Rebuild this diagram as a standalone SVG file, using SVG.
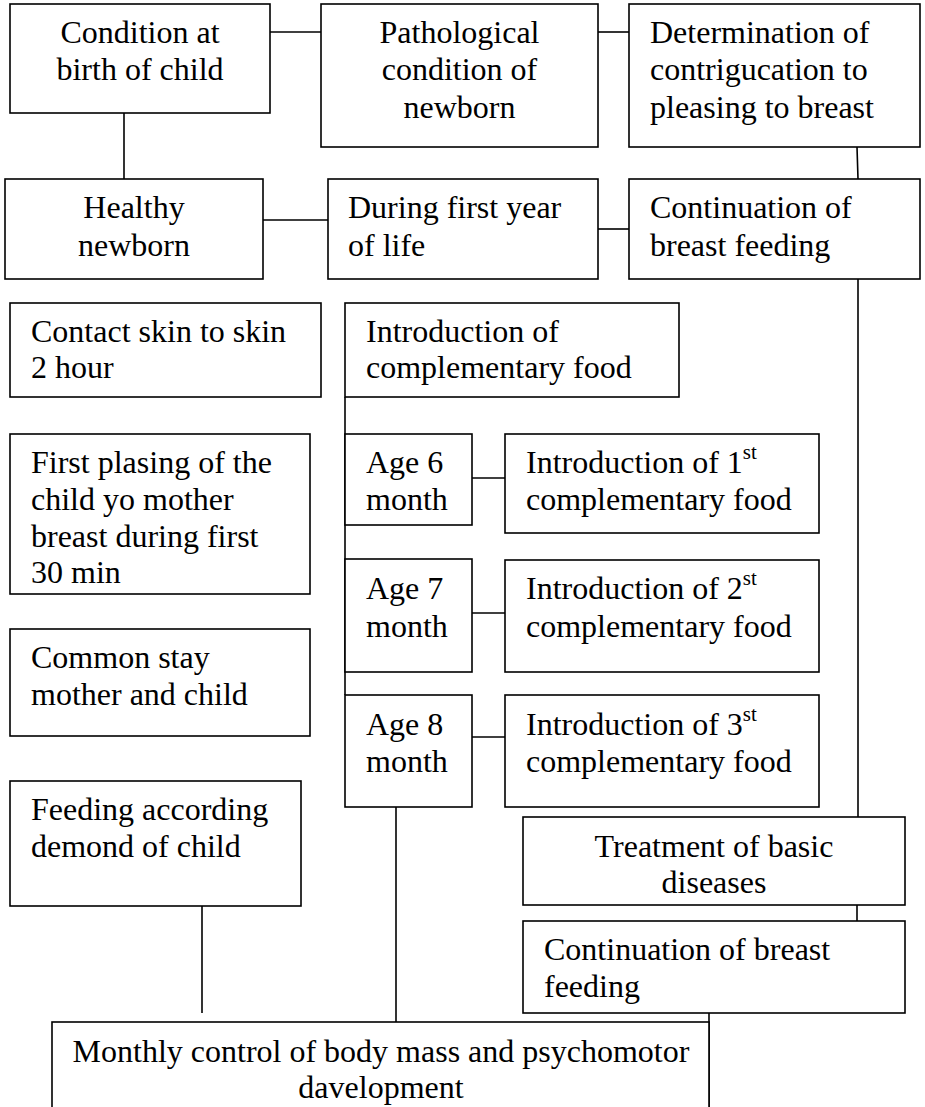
<svg xmlns="http://www.w3.org/2000/svg" width="925" height="1107" viewBox="0 0 925 1107">
<style>
rect{fill:#fff;stroke:#000;stroke-width:1.6}
line{stroke:#000;stroke-width:1.6}
text{font-family:"Liberation Serif","Times New Roman",serif;font-size:32px;fill:#000}
.c{text-anchor:middle}
.sup{font-size:21px}
</style>
<rect x="0" y="0" width="925" height="1107" style="stroke:none"/>
<g id="connectors">
<line x1="270" y1="32" x2="321" y2="32"/>
<line x1="598" y1="32" x2="629" y2="32"/>
<line x1="124" y1="113" x2="124" y2="179"/>
<line x1="857" y1="147" x2="858" y2="179"/>
<line x1="263" y1="220" x2="328" y2="220"/>
<line x1="598" y1="229" x2="629" y2="229"/>
<line x1="858" y1="279" x2="858" y2="817"/>
<line x1="345" y1="397" x2="345" y2="695"/>
<line x1="472" y1="478" x2="505" y2="478"/>
<line x1="472" y1="613" x2="505" y2="613"/>
<line x1="472" y1="737" x2="505" y2="737"/>
<line x1="202" y1="906" x2="202" y2="1013"/>
<line x1="396" y1="807" x2="396" y2="1022"/>
<line x1="857" y1="905" x2="857" y2="921"/>
<line x1="709" y1="1013" x2="709" y2="1107"/>
</g>
<g id="n1"><rect x="10" y="4" width="260" height="109"/><text x="140" y="43" class="c">Condition at</text><text x="140" y="80" class="c">birth of child</text></g>
<g id="n2"><rect x="321" y="4" width="277" height="143"/><text x="459.5" y="43" class="c">Pathological</text><text x="459.5" y="80" class="c">condition of</text><text x="459.5" y="118" class="c">newborn</text></g>
<g id="n3"><rect x="629" y="4" width="291" height="143"/><text x="650" y="43">Determination of</text><text x="650" y="80">contrigucation to</text><text x="650" y="118">pleasing to breast</text></g>
<g id="n4"><rect x="5" y="179" width="258" height="100"/><text x="134" y="218" class="c">Healthy</text><text x="134" y="256" class="c">newborn</text></g>
<g id="n5"><rect x="328" y="179" width="270" height="100"/><text x="348" y="218">During first year</text><text x="348" y="256">of life</text></g>
<g id="n6"><rect x="629" y="179" width="291" height="100"/><text x="650" y="218">Continuation of</text><text x="650" y="256">breast feeding</text></g>
<g id="n7"><rect x="10" y="303" width="311" height="94"/><text x="31" y="342">Contact skin to skin</text><text x="31" y="378">2 hour</text></g>
<g id="n8"><rect x="10" y="434" width="300" height="160"/><text x="31" y="473">First plasing of the</text><text x="31" y="510">child yo mother</text><text x="31" y="547">breast during first</text><text x="31" y="583">30 min</text></g>
<g id="n9"><rect x="10" y="629" width="300" height="107"/><text x="31" y="668">Common stay</text><text x="31" y="705">mother and child</text></g>
<g id="n10"><rect x="10" y="781" width="291" height="125"/><text x="31" y="820">Feeding according</text><text x="31" y="857">demond of child</text></g>
<g id="n11"><rect x="345" y="303" width="334" height="94"/><text x="366" y="342">Introduction of</text><text x="366" y="378">complementary food</text></g>
<g id="n12"><rect x="345" y="434" width="127" height="91"/><text x="366" y="473">Age 6</text><text x="366" y="510">month</text></g>
<g id="n13"><rect x="345" y="559" width="127" height="113"/><text x="366" y="599">Age 7</text><text x="366" y="637">month</text></g>
<g id="n14"><rect x="345" y="695" width="127" height="112"/><text x="366" y="735">Age 8</text><text x="366" y="772">month</text></g>
<g id="n15"><rect x="505" y="434" width="314" height="99"/><text x="526" y="473">Introduction of 1<tspan class="sup" dy="-14">st</tspan></text><text x="526" y="510">complementary food</text></g>
<g id="n16"><rect x="505" y="560" width="314" height="112"/><text x="526" y="599">Introduction of 2<tspan class="sup" dy="-14">st</tspan></text><text x="526" y="637">complementary food</text></g>
<g id="n17"><rect x="505" y="695" width="314" height="112"/><text x="526" y="735">Introduction of 3<tspan class="sup" dy="-14">st</tspan></text><text x="526" y="772">complementary food</text></g>
<g id="n18"><rect x="523" y="817" width="382" height="88"/><text x="714" y="857" class="c">Treatment of basic</text><text x="714" y="893" class="c">diseases</text></g>
<g id="n19"><rect x="523" y="921" width="382" height="92"/><text x="544" y="960">Continuation of breast</text><text x="544" y="997">feeding</text></g>
<g id="n20"><rect x="52" y="1022" width="657" height="100"/><text x="381" y="1062" class="c">Monthly control of body mass and psychomotor</text><text x="381" y="1098" class="c">davelopment</text></g>
</svg>
